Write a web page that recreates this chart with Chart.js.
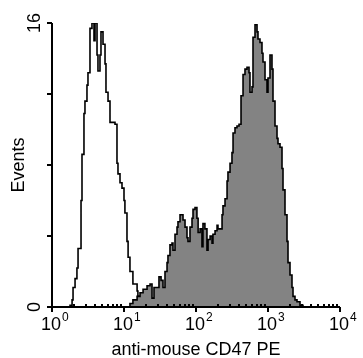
<!DOCTYPE html>
<html>
<head>
<meta charset="utf-8">
<script src="https://cdn.jsdelivr.net/npm/chart.js@4.4.1/dist/chart.umd.min.js"></script>
<style>
html, body { margin: 0; padding: 0; background: #fff; }
</style>
</head>
<body>
<canvas id="histo" width="363" height="358"></canvas>
<script>
// open histogram (control)
const control_x = [1.67, 1.78, 1.90, 1.96, 2.09, 2.22, 2.30, 2.53, 2.61, 2.78,
	2.87, 3.06, 3.16, 3.37, 3.59, 3.83, 3.96, 4.22, 4.35, 4.64,
	4.79, 5.11, 5.45, 5.62, 6.00, 6.39, 7.03, 7.50, 7.99, 8.25,
	8.80, 9.38, 10.0, 10.3, 11.0, 11.4, 12.1, 13.3, 15.2, 15.6,
	17.8, 19.6, 21.5];
const control_y = [0, 0.1, 0.4, 1.1, 1.6, 2.2, 3.3, 6.0, 8.6, 10.9,
	11.6, 12.5, 13.2, 15.7, 16.0, 15.0, 16.0, 14.2, 13.3, 14.2,
	15.5, 14.8, 13.7, 12.1, 11.6, 10.4, 10.4, 10.3, 8.1, 7.5,
	7.0, 6.7, 6.0, 5.3, 3.7, 2.8, 2.0, 1.3, 0.9, 0.6,
	0.3, 0.1, 0];

// filled histogram (anti-mouse CD47 PE)
const stained_x = [11.4, 12.1, 13.3, 15.2, 16.7, 18.4, 20.9, 23.0, 24.5, 26.1,
	28.7, 30.6, 32.7, 34.8, 37.1, 39.6, 40.8, 43.5, 46.4, 47.9,
	51.1, 54.5, 56.2, 60.0, 63.9, 66.0, 70.4, 75.0, 77.4, 82.5,
	88.0, 90.9, 96.9, 103, 107, 114, 121, 125, 133, 142,
	147, 157, 167, 172, 184, 196, 202, 215, 230, 237,
	253, 270, 278, 297, 316, 327, 348, 371, 396, 422,
	450, 479, 511, 545, 562, 600, 619, 660, 704, 726,
	774, 825, 852, 909, 969, 1000, 1066, 1136, 1173, 1251,
	1334, 1377, 1468, 1565, 1616, 1722, 1836, 1896, 2021, 2154,
	2225, 2371, 2528, 2783, 3063];
const stained_y = [0, 0.2, 0.4, 0.6, 0.8, 1.0, 1.2, 1.3, 0.5, 1.1,
	1.1, 1.7, 1.5, 1.1, 2.0, 2.5, 2.9, 3.5, 3.6, 3.2,
	4.1, 4.5, 4.8, 5.2, 5.2, 4.9, 4.5, 3.9, 3.7, 4.5,
	5.0, 5.5, 5.6, 5.0, 4.2, 4.4, 3.4, 4.7, 4.4, 3.2,
	3.8, 4.0, 3.6, 4.1, 4.3, 4.6, 4.4, 4.4, 5.2, 5.7,
	6.1, 7.1, 7.6, 8.1, 8.7, 9.8, 10.1, 10.2, 10.3, 11.9,
	13.1, 13.4, 13.5, 13.2, 12.1, 12.4, 15.2, 15.9, 15.5, 15.1,
	14.9, 14.3, 13.8, 12.8, 12.1, 12.9, 14.2, 13.4, 11.6, 10.2,
	9.5, 9.2, 9.0, 7.8, 6.6, 5.2, 3.7, 2.5, 1.8, 1.1,
	0.6, 0.4, 0.3, 0.1, 0];

const y_ticks = [0, 4, 8, 12, 16];
const y_tick_labels = [0, 16];
const x_decades = [1, 10, 100, 1000, 10000];
const x_exponents = ['0', '1', '2', '3', '4'];
const x_minor = [2, 3, 4, 5, 6, 7, 8, 9];
const x_title = 'anti-mouse CD47 PE';
const y_title = 'Events';

const FONT = "'Liberation Sans', Arial, sans-serif";

function toPoints(xs, ys) {
	return xs.map((v, i) => ({x: v, y: ys[i]}));
}

//axes are drawn by hand: rotated y labels, inward minor ticks, superscript labels
const flowAxes = {
	id: 'flowAxes',
	afterDatasetsDraw(chart) {
		const ctx = chart.ctx;
		const area = chart.chartArea;
		const xs = chart.scales.x, ys = chart.scales.y;
		const L = Math.round(area.left);
		const B = Math.round(area.bottom);

		ctx.save();
		ctx.strokeStyle = '#000';
		ctx.fillStyle = '#000';
		ctx.lineWidth = 2;
		ctx.beginPath();
		ctx.moveTo(L, area.top);
		ctx.lineTo(L, B);
		ctx.moveTo(L, B);
		ctx.lineTo(area.right, B);
		y_ticks.forEach((v) => {
			const p = Math.round(ys.getPixelForValue(v));
			ctx.moveTo(L - 5, p);
			ctx.lineTo(L, p);
		});
		x_decades.forEach((d, i) => {
			const p = Math.round(xs.getPixelForValue(d));
			ctx.moveTo(p, B);
			ctx.lineTo(p, B + 5);
			if (i < x_decades.length - 1) {
				x_minor.forEach((m) => {
					const q = Math.round(xs.getPixelForValue(d * m));
					ctx.moveTo(q, B - 3);
					ctx.lineTo(q, B);
				});
			}
		});
		ctx.stroke();

		// y tick labels, rotated
		ctx.font = '18px ' + FONT;
		ctx.textAlign = 'center';
		ctx.textBaseline = 'middle';
		y_tick_labels.forEach((v) => {
			const p = ys.getPixelForValue(v);
			ctx.save();
			ctx.translate(35, p);
			ctx.rotate(-Math.PI / 2);
			ctx.fillText(String(v), 0, 0);
			ctx.restore();
		});

		// x tick labels: 10 with superscript exponent
		ctx.textBaseline = 'alphabetic';
		ctx.textAlign = 'left';
		x_decades.forEach((d, i) => {
			const p = xs.getPixelForValue(d);
			ctx.font = '18px ' + FONT;
			const w = ctx.measureText('10').width;
			const x0 = p - w / 2 - 1;
			ctx.fillText('10', x0, 330);
			ctx.font = '12px ' + FONT;
			ctx.fillText(x_exponents[i], x0 + w + 1, 321);
		});

		// axis titles
		ctx.font = '18px ' + FONT;
		ctx.textAlign = 'center';
		ctx.fillText(x_title, (area.left + area.right) / 2, 355);
		ctx.save();
		ctx.translate(19, 165);
		ctx.rotate(-Math.PI / 2);
		ctx.textBaseline = 'middle';
		ctx.fillText(y_title, 0, 0);
		ctx.restore();

		ctx.restore();
	}
};

const ctx = document.getElementById('histo').getContext('2d');

let histoChart = new Chart(ctx, {
	type: 'line',
	data: {
		datasets: [{
			label: 'CD47 PE',
			data: toPoints(stained_x, stained_y),
			stepped: true,
			fill: 'origin',
			borderColor: '#000',
			backgroundColor: '#838383',
			borderWidth: 1.6,
			pointRadius: 0
			},
			{
			label: 'control',
			data: toPoints(control_x, control_y),
			stepped: true,
			fill: false,
			borderColor: '#000',
			borderWidth: 1.6,
			pointRadius: 0
			}
		]
	},
	options: {
		responsive: false,
		animation: false,
		layout: {
			padding: {left: 52, right: 23, top: 23, bottom: 51}
		},
		scales: {
			x: {type: 'logarithmic', min: 1, max: 10000, display: false},
			y: {type: 'linear', min: 0, max: 16, display: false}
		},
		plugins: {
			legend: {display: false},
			tooltip: {enabled: false}
		}
	},
	plugins: [flowAxes]
});
</script>
</body>
</html>
